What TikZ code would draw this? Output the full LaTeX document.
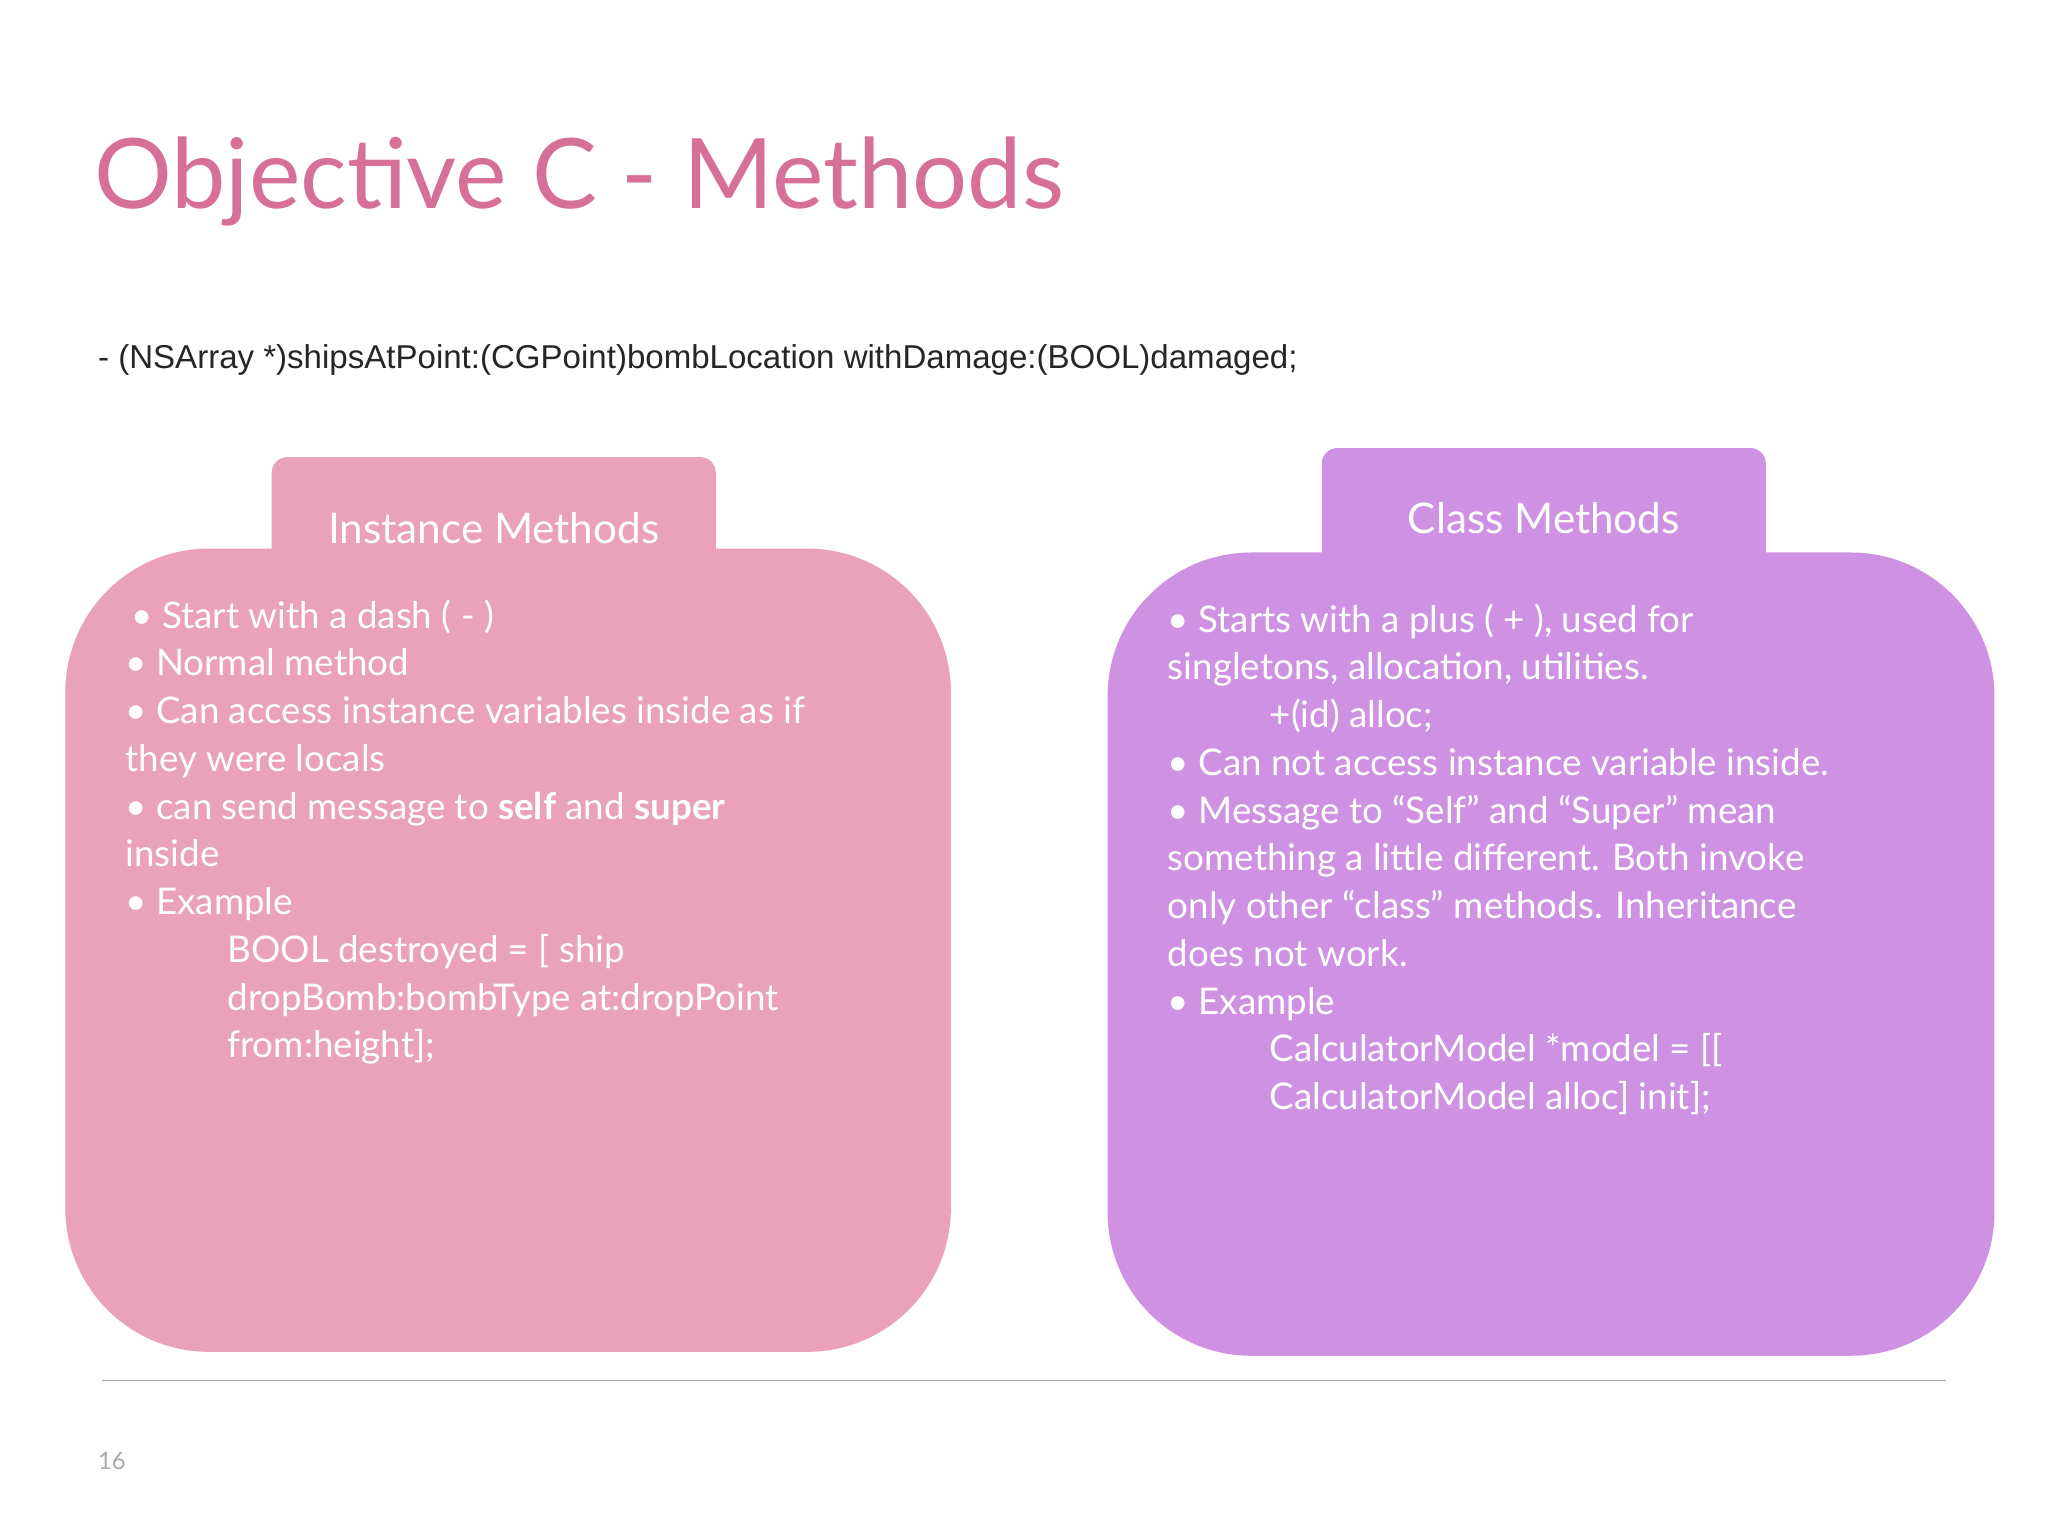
\documentclass[tikz,border=0pt]{standalone}
\usepackage{fontspec}
\setmainfont{Lato}
\newfontfamily\arialf{Liberation Sans}
\definecolor{titlepink}{RGB}{214,112,152}
\definecolor{boxpink}{RGB}{233,162,185}
\definecolor{boxpurple}{RGB}{207,145,225}
\definecolor{rulegray}{RGB}{170,170,170}
\tikzset{
  boxtext/.style={anchor=north west,align=left,text=white,inner sep=0pt,font=\fontsize{40}{52}\selectfont},
  tabtext/.style={anchor=center,text=white,inner sep=0pt,font=\fontsize{46}{52}\selectfont}
}
\begin{document}
\begin{tikzpicture}[x=0.05cm,y=-0.05cm]
\useasboundingbox (0,0) rectangle (1568,1176);
\fill[white] (0,0) rectangle (1568,1176);
\node[anchor=base west,inner sep=0pt,text=titlepink,font=\fontsize{106}{110}\selectfont] (title) at (72,160) {Objective C - Methods};
\node[anchor=base west,inner sep=0pt,font=\arialf\fontsize{36}{40}\selectfont,text=black!85] (sig) at (75,282) {- (NSArray *)shipsAtPoint:(CGPoint)bombLocation withDamage:(BOOL)damaged;};
% left box
\fill[boxpink,rounded corners=0.6cm] (208,350) rectangle (548,470);
\fill[boxpink,rounded corners=5.5cm] (50,420) rectangle (728,1035);
\node[tabtext] (ltab) at (378,404) {Instance Methods};
\node[boxtext] (ltext) at (96,459) {%
\,• Start with a dash ( - )\\
• Normal method\\
• Can access instance variables inside as if\\
they were locals\\
• can send message to \textbf{self} and \textbf{super}\\
inside\\
• Example\\
\hspace*{78\dimexpr0.05cm\relax}BOOL destroyed = [ ship\\
\hspace*{78\dimexpr0.05cm\relax}dropBomb:bombType at:dropPoint\\
\hspace*{78\dimexpr0.05cm\relax}from:height];};
% right box
\fill[boxpurple,rounded corners=0.6cm] (1012,343) rectangle (1352,470);
\fill[boxpurple,rounded corners=5.5cm] (848,423) rectangle (1527,1038);
\node[tabtext] (rtab) at (1182,397) {Class Methods};
\node[boxtext] (rtext) at (894,462) {%
• Starts with a plus ( + ), used for\\
singletons, allocation, utilities.\\
\hspace*{78\dimexpr0.05cm\relax}+(id) alloc;\\
• Can not access instance variable inside.\\
• Message to “Self” and “Super” mean\\
something a little different. Both invoke\\
only other “class” methods. Inheritance\\
does not work.\\
• Example\\
\hspace*{78\dimexpr0.05cm\relax}CalculatorModel *model = [[\\
\hspace*{78\dimexpr0.05cm\relax}CalculatorModel alloc] init];};
\draw[rulegray,line width=1.5pt] (78,1057) coordinate (r1) -- (1490,1057) coordinate (r2);
\node[anchor=base west,inner sep=0pt,text=rulegray,font=\fontsize{26}{30}\selectfont] (pg) at (75,1125) {16};
\end{tikzpicture}
\end{document}
